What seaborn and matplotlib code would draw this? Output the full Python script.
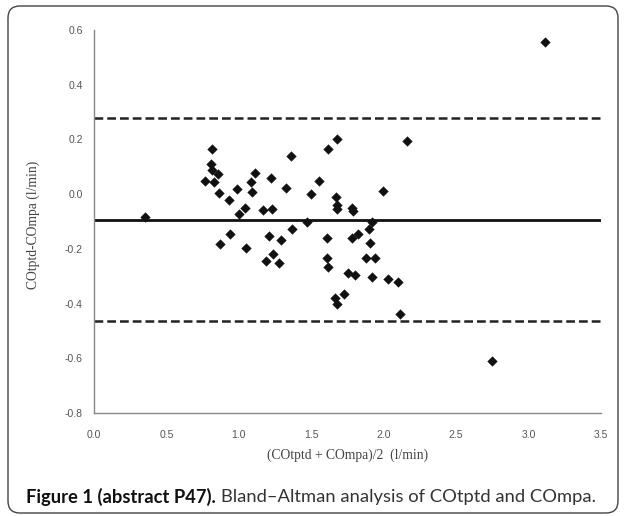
import numpy as np
import pandas as pd
import matplotlib
matplotlib.use("Agg")
import matplotlib.pyplot as plt
import seaborn as sns
from matplotlib.patches import FancyBboxPatch
from matplotlib.transforms import IdentityTransform

# ---- data ----
mean_vals = [0.352, 0.814, 0.810, 0.814, 0.857, 0.766, 0.828, 0.862, 0.933, 0.988,
             1.041, 1.000, 1.110, 1.083, 1.092, 1.223, 1.166, 1.228, 1.363, 1.324,
             1.497, 1.552, 1.614, 1.678, 1.669, 1.680, 1.676, 1.784, 1.791, 1.471,
             1.368, 0.942, 0.867, 1.050, 1.207, 1.292, 1.237, 1.188, 1.278, 1.607,
             1.607, 1.614, 1.779, 1.825, 1.897, 1.922, 1.903, 1.880, 1.938, 1.754,
             1.805, 1.920, 1.724, 1.667, 1.680, 2.032, 2.101, 2.110, 1.998, 2.163,
             2.745, 3.115]
diff_vals = [-0.083, 0.164, 0.112, 0.088, 0.075, 0.047, 0.045, 0.004, -0.022, 0.017,
             -0.052, -0.073, 0.079, 0.043, 0.007, 0.058, -0.057, -0.054, 0.139, 0.021,
             0.002, 0.049, 0.164, 0.200, -0.009, -0.040, -0.056, -0.050, -0.061, -0.103,
             -0.128, -0.147, -0.182, -0.198, -0.153, -0.167, -0.218, -0.246, -0.253, -0.161,
             -0.232, -0.266, -0.159, -0.144, -0.127, -0.103, -0.179, -0.235, -0.235, -0.289,
             -0.297, -0.302, -0.365, -0.381, -0.401, -0.311, -0.320, -0.438, 0.012, 0.193,
             -0.611, 0.555]
bias = -0.093
upper_loa = 0.279
lower_loa = -0.465

x_ticks = [0.0, 0.5, 1.0, 1.5, 2.0, 2.5, 3.0, 3.5]
x_tick_labels = ["0.0", "0.5", "1.0", "1.5", "2.0", "2.5", "3.0", "3.5"]
y_ticks = [0.6, 0.4, 0.2, 0.0, -0.2, -0.4, -0.6, -0.8]
y_tick_labels = ["0.6", "0.4", "0.2", "0.0", "-0.2", "-0.4", "-0.6", "-0.8"]

x_label = "(COtptd + COmpa)/2  (l/min)"
y_label = "COtptd-COmpa (l/min)"
caption_bold = "Figure 1 (abstract P47)."
caption_rest = "Bland\u2013Altman analysis of COtptd and COmpa."

df = pd.DataFrame({"mean": mean_vals, "diff": diff_vals})

sns.set_style("white")
W, H = 626, 516
fig = plt.figure(figsize=(W / 100, H / 100), dpi=100)
ax = fig.add_axes([94 / W, 1 - 413 / H, (601 - 94) / W, (413 - 30) / H])

sns.scatterplot(data=df, x="mean", y="diff", marker="D", s=24, color="#111111",
                edgecolor="#111111", linewidth=0.3, ax=ax, zorder=3, legend=False)

ax.axhline(bias, color="#111111", lw=2.0, zorder=2)
ax.axhline(upper_loa, color="#222222", lw=1.8, ls=(0, (3.5, 1.6)), zorder=2)
ax.axhline(lower_loa, color="#222222", lw=1.8, ls=(0, (3.5, 1.6)), zorder=2)

ax.set_xlim(0.0, 3.5)
ax.set_ylim(-0.8, 0.6)
ax.set_xticks(x_ticks)
ax.set_xticklabels(x_tick_labels)
ax.set_yticks(y_ticks)
ax.set_yticklabels(y_tick_labels)

for side in ["top", "right"]:
    ax.spines[side].set_visible(False)
for side in ["left", "bottom"]:
    ax.spines[side].set_color("#888888")
    ax.spines[side].set_linewidth(1.0)

ax.tick_params(axis="both", which="major", direction="out", length=4, width=0.8,
               color="#888888", labelcolor="#555555", labelsize=7.5)
ax.tick_params(axis="x", pad=8)
ax.tick_params(axis="y", pad=4)
for lab in ax.get_xticklabels() + ax.get_yticklabels():
    lab.set_family(["Liberation Sans", "DejaVu Sans"])

ax.set_xlabel(x_label, family=["Liberation Serif", "DejaVu Serif"], fontsize=9.8, color="#444444")
ax.set_ylabel(y_label, family=["Liberation Serif", "DejaVu Serif"], fontsize=9.8, color="#444444")
ax.xaxis.set_label_coords(0.5, -(455 - 413) / 383, transform=ax.transAxes)
ax.xaxis.label.set_va("center")
ax.yaxis.set_label_coords(-(94 - 33) / 507, 0.49)
ax.yaxis.label.set_va("center")
ax.yaxis.label.set_rotation_mode("anchor")

# frame
frame = FancyBboxPatch((8, 3), 610, 507, boxstyle="round,pad=0,rounding_size=12",
                       transform=IdentityTransform(), fill=False, edgecolor="#444444",
                       linewidth=1.0)
fig.add_artist(frame)

# caption
cap_y = 1 - 497 / H
t1 = fig.text(26 / W, cap_y, caption_bold, fontsize=13.2, fontweight="bold",
              family=["Lato", "DejaVu Sans"], color="#111111", va="center", ha="left")
fig.canvas.draw()
bb = t1.get_window_extent()
fig.text((bb.x1 + 5) / W, cap_y, caption_rest, fontsize=13.2,
         family=["Lato", "DejaVu Sans"], color="#333333", va="center", ha="left")

fig.savefig("out.png", dpi=100)
